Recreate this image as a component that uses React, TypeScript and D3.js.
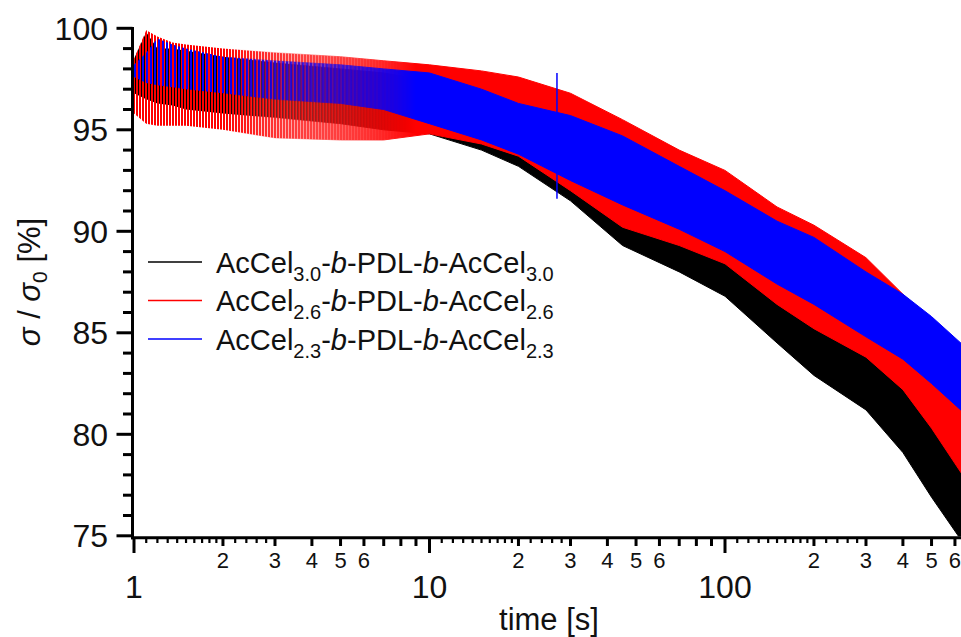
import React from 'react';
import * as d3 from 'd3';

// ---- data ----
// sample times [s]
const times = [1, 1.1, 1.2, 1.35, 1.5, 2, 3, 5, 7, 10, 15, 20, 30, 45, 70, 100, 150, 200, 300, 400, 500, 650];
// noise envelope (lower / upper) of each series, sigma/sigma0 [%]
const blackLow = [96.8, 96.5, 96.3, 96.2, 96.0, 95.8, 95.6, 95.3, 95.0, 94.8, 94.0, 93.2, 91.5, 89.3, 88.0, 86.8, 84.5, 82.9, 81.2, 79.1, 76.9, 74.5];
const blackHigh = [98.5, 99.8, 99.0, 99.0, 98.9, 98.6, 98.3, 98.0, 97.8, 97.4, 96.8, 96.2, 95.2, 94.0, 92.8, 91.8, 90.2, 89.0, 87.5, 86.0, 84.7, 82.8];
const redLow = [95.8, 95.3, 95.2, 95.2, 95.2, 95.0, 94.6, 94.5, 94.5, 94.8, 94.3, 93.7, 92.0, 90.2, 89.3, 88.4, 86.4, 85.2, 83.8, 82.2, 80.3, 77.8];
const redHigh = [98.5, 99.9, 99.6, 99.3, 99.2, 99.0, 98.8, 98.6, 98.4, 98.2, 97.9, 97.6, 96.8, 95.5, 94.0, 93.0, 91.2, 90.3, 88.7, 86.9, 85.6, 84.0];
const blueLow = [97.6, 97.3, 97.2, 97.1, 97.0, 96.8, 96.5, 96.3, 96.0, 95.3, 94.5, 93.8, 92.5, 91.3, 90.1, 89.0, 87.4, 86.4, 84.8, 83.7, 82.5, 81.0];
const blueHigh = [98.2, 98.8, 99.5, 99.2, 99.0, 98.6, 98.4, 98.2, 98.0, 97.8, 97.0, 96.3, 95.7, 94.7, 93.2, 92.0, 90.5, 89.7, 88.0, 86.9, 85.8, 84.3];
// isolated spike of the blue series: [time, low, high]
const blueSpike = [27, 91.6, 97.8];

const seriesSub = ['3.0', '2.6', '2.3'];
const seriesColors = ['#000000', '#ff0000', '#0000ff'];

const yMajorTicks = [75, 80, 85, 90, 95, 100];
const xDecades = [1, 10, 100];
const xMinorLabels = [2, 3, 4, 5, 6];

const FONT = '"Liberation Sans", Arial, Helvetica, sans-serif';

export default function App() {
  const W = 961;
  const H = 637;
  const x = d3.scaleLog().domain([1, 1000]).range([134, 134 + 3 * 295.5]);
  const y = d3.scaleLinear().domain([75, 100]).range([535.8, 28.3]);
  const plotL = 133;
  const plotR = W;
  const plotT = 28;
  const plotB = 536.5;
  const axisY = 537.8;
  const axisX = 132.5;

  const series = [
    { low: blackLow, high: blackHigh },
    { low: redLow, high: redHigh },
    { low: blueLow, high: blueHigh },
  ].map((s, i) => ({ ...s, color: seriesColors[i], sub: seriesSub[i] }));

  const makeArea = (low: number[], high: number[]) =>
    d3
      .area<number>()
      .x((_, i) => x(times[i]))
      .y0((_, i) => y(low[i]))
      .y1((_, i) => y(high[i]))(times) || '';

  // x ticks
  const xMax = x.invert(plotR);
  const medium: number[] = [];
  const tiny: number[] = [];
  xDecades.forEach((d) => {
    for (let k = 2; k <= 9; k++) medium.push(k * d);
    for (let j = 1; j <= 9; j++) tiny.push((1 + j / 10) * d);
    for (let j = 1; j <= 4; j++) tiny.push((2 + 0.2 * j) * d);
  });
  const inX = (v: number) => v <= xMax;
  const yMinor = d3.range(75, 101, 1).filter((v) => v % 5 !== 0);

  const gradStart = x(2);
  const gradEnd = x(9);

  const patterns = [
    { w: 3, off: 0, sw: 2 },
    { w: 3, off: 1, sw: 2 },
    { w: 4, off: 2, sw: 2 },
  ];

  const legendRows = [262, 300.5, 339];

  return (
    <svg width={W} height={H} style={{ position: 'absolute', left: 0, top: 0, background: '#fff' }} fontFamily={FONT}>
      <defs>
        <clipPath id="plotClip">
          <rect x={plotL} y={plotT - 2} width={plotR - plotL} height={plotB - plotT + 2} />
        </clipPath>
        <linearGradient id="gSolid" gradientUnits="userSpaceOnUse" x1={gradStart} x2={gradEnd} y1={0} y2={0}>
          <stop offset="0" stopColor="#000" />
          <stop offset="1" stopColor="#fff" />
        </linearGradient>
        <linearGradient id="gPat" gradientUnits="userSpaceOnUse" x1={gradStart} x2={gradEnd} y1={0} y2={0}>
          <stop offset="0" stopColor="#fff" />
          <stop offset="1" stopColor="#000" />
        </linearGradient>
        <mask id="mSolid" maskUnits="userSpaceOnUse" x={0} y={0} width={W} height={H}>
          <rect x={0} y={0} width={W} height={H} fill="url(#gSolid)" />
        </mask>
        <mask id="mPat" maskUnits="userSpaceOnUse" x={0} y={0} width={W} height={H}>
          <rect x={0} y={0} width={W} height={H} fill="url(#gPat)" />
        </mask>
        {series.map((s, i) => (
          <pattern key={i} id={`pat${i}`} patternUnits="userSpaceOnUse" width={patterns[i].w} height={10}>
            <rect x={patterns[i].off} y={0} width={patterns[i].sw} height={10} fill={s.color} />
          </pattern>
        ))}
      </defs>

      {/* data */}
      <g clipPath="url(#plotClip)">
        {series.map((s, i) => {
          const d = makeArea(s.low, s.high);
          return (
            <g key={i}>
              <path d={d} fill={`url(#pat${i})`} mask="url(#mPat)" />
              <path d={d} fill={s.color} stroke={s.color} strokeWidth={1} mask="url(#mSolid)" />
            </g>
          );
        })}
        <line
          x1={x(blueSpike[0])}
          x2={x(blueSpike[0])}
          y1={y(blueSpike[1])}
          y2={y(blueSpike[2])}
          stroke={seriesColors[2]}
          strokeWidth={1.5}
        />
      </g>

      {/* y axis */}
      <line x1={axisX} x2={axisX} y1={plotT - 1} y2={axisY + 1.5} stroke="#000" strokeWidth={3} />
      {yMajorTicks.map((v) => (
        <g key={v}>
          <line x1={116.5} x2={axisX} y1={y(v)} y2={y(v)} stroke="#000" strokeWidth={3} />
          <text x={108} y={y(v)} dy="0.36em" textAnchor="end" fontSize={32} fill="#111">
            {v}
          </text>
        </g>
      ))}
      {yMinor.map((v) => (
        <line key={v} x1={123} x2={axisX} y1={y(v)} y2={y(v)} stroke="#000" strokeWidth={3} />
      ))}

      {/* x axis */}
      <line x1={axisX - 1.5} x2={W} y1={axisY} y2={axisY} stroke="#000" strokeWidth={3} />
      {xDecades.filter(inX).map((v) => (
        <g key={v}>
          <line x1={x(v)} x2={x(v)} y1={axisY} y2={553} stroke="#000" strokeWidth={3} />
          <text x={x(v)} y={598} textAnchor="middle" fontSize={32} fill="#111">
            {v}
          </text>
        </g>
      ))}
      {medium.filter(inX).map((v) => (
        <line key={v} x1={x(v)} x2={x(v)} y1={axisY} y2={546} stroke="#000" strokeWidth={3} />
      ))}
      {tiny.filter(inX).map((v) => (
        <line key={v} x1={x(v)} x2={x(v)} y1={axisY} y2={543} stroke="#000" strokeWidth={2.2} />
      ))}
      {xDecades.flatMap((d) => xMinorLabels.map((k) => k * d)).filter((v) => x(v) < W).map((v) => (
        <text key={v} x={x(v)} y={568} textAnchor="middle" fontSize={22} fill="#111">
          {String(v).charAt(0)}
        </text>
      ))}

      {/* axis titles */}
      <text x={549} y={630} textAnchor="middle" fontSize={31} fill="#111">
        time [s]
      </text>
      <text transform="translate(40,282) rotate(-90)" textAnchor="middle" fontSize={31} fill="#111">
        <tspan fontStyle="italic">σ</tspan>
        <tspan> / </tspan>
        <tspan fontStyle="italic">σ</tspan>
        <tspan dy={7} fontSize={21}>0</tspan>
        <tspan dy={-7}> [%]</tspan>
      </text>

      {/* legend */}
      {series.map((s, i) => (
        <g key={i}>
          <line x1={148} x2={202} y1={legendRows[i]} y2={legendRows[i]} stroke={s.color} strokeWidth={1.5} />
          <text x={216} y={legendRows[i] + 10.5} fontSize={29} fill="#111">
            <tspan>AcCel</tspan>
            <tspan dy={8} fontSize={20}>{s.sub}</tspan>
            <tspan dy={-8}>-</tspan>
            <tspan fontStyle="italic">b</tspan>
            <tspan>-PDL-</tspan>
            <tspan fontStyle="italic">b</tspan>
            <tspan>-AcCel</tspan>
            <tspan dy={8} fontSize={20}>{s.sub}</tspan>
          </text>
        </g>
      ))}
    </svg>
  );
}
